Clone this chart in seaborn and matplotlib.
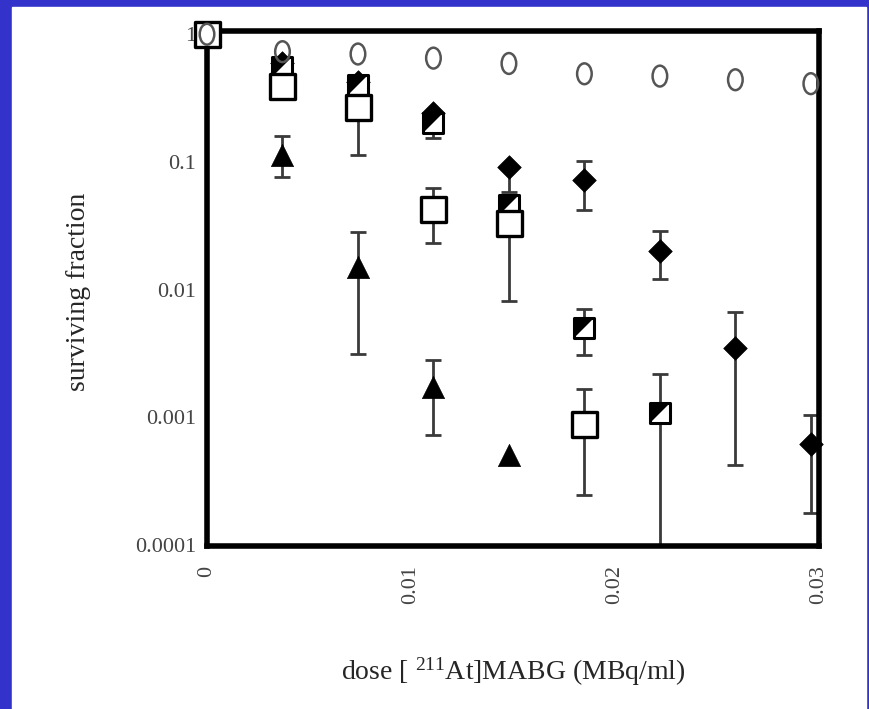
import matplotlib
matplotlib.use('Agg')
import matplotlib.pyplot as plt
import seaborn as sns
import pandas as pd
from matplotlib.path import Path
from matplotlib.patches import Rectangle
from matplotlib.transforms import Affine2D
from matplotlib.ticker import FixedLocator, NullLocator

# doses in MBq/ml (steps of 0.1 uCi)
dose = [0, 0.0037, 0.0074, 0.0111, 0.0148, 0.0185, 0.0222, 0.0259, 0.0296]

circle_sf = [1.0, 0.73, 0.70, 0.65, 0.59, 0.49, 0.47, 0.44, 0.41]

diamond_sf = [1.0, 0.60, 0.42, 0.24, 0.092, 0.072, 0.020, 0.0035, 0.00062]
diamond_lo = [None, None, None, None, 0.058, 0.042, 0.0121, 0.00042, 0.000178]
diamond_hi = [None, None, None, None, 0.092, 0.101, 0.0287, 0.00667, 0.00104]

halfsq_sf = [1.0, 0.55, 0.40, 0.20, 0.046, 0.0050, 0.00108]
halfsq_lo = [None, None, None, 0.153, None, 0.00307, 0.0001]
halfsq_hi = [None, None, None, 0.20, None, 0.00704, 0.00218]

opensq_sf = [1.0, 0.39, 0.27, 0.043, 0.033, 0.00089]
opensq_lo = [None, None, 0.113, 0.0231, 0.0081, 0.000246]
opensq_hi = [None, None, 0.27, 0.0623, 0.033, 0.00166]

triangle_sf = [1.0, 0.113, 0.0150, 0.00172, 0.00051]
triangle_lo = [None, 0.076, 0.00313, 0.00073, None]
triangle_hi = [None, 0.159, 0.0282, 0.0028, None]

yticks = [0.0001, 0.001, 0.01, 0.1, 1]
yticklabels = ['0.0001', '0.001', '0.01', '0.1', '1']
xticks = [0, 0.01, 0.02, 0.03]
xticklabels = ['0', '0.01', '0.02', '0.03']


def series_df(vals):
    return pd.DataFrame({'dose': dose[:len(vals)], 'sf': vals})


def draw_err(ax, vals, lo, hi):
    xs, ys, dlo, dhi = [], [], [], []
    for x, y, l, h in zip(dose, vals, lo, hi):
        if l is None:
            continue
        xs.append(x)
        ys.append(y)
        dlo.append(y - l)
        dhi.append(h - y)
    ax.errorbar(xs, ys, yerr=[dlo, dhi], fmt='none', ecolor='#3a3a3a',
                elinewidth=2, capsize=5.5, capthick=2, zorder=1, clip_on=False)


def main():
    sns.set_style('white')
    plt.rcParams['font.family'] = ['Liberation Serif', 'DejaVu Serif']
    plt.rcParams['mathtext.fontset'] = 'custom'
    plt.rcParams['mathtext.rm'] = 'Liberation Serif'

    fig = plt.figure(figsize=(8.69, 7.09), dpi=100)
    fig.patch.set_facecolor('#3333cc')
    fig.add_artist(Rectangle((12 / 869, 0), 854 / 869, 702 / 709,
                             transform=fig.transFigure, color='white', zorder=-1))
    ax = fig.add_axes([207 / 869, 163 / 709, 612 / 869, 515 / 709])

    # custom markers
    ellipse = Affine2D().scale(0.7, 1.0).transform_path(Path.unit_circle())
    upper_left = Path([(-0.5, -0.5), (-0.5, 0.5), (0.5, 0.5), (-0.5, -0.5)],
                      [Path.MOVETO, Path.LINETO, Path.LINETO, Path.CLOSEPOLY])

    # error bars
    draw_err(ax, diamond_sf, diamond_lo, diamond_hi)
    draw_err(ax, halfsq_sf, halfsq_lo, halfsq_hi)
    draw_err(ax, opensq_sf, opensq_lo, opensq_hi)
    draw_err(ax, triangle_sf, triangle_lo, triangle_hi)

    # markers
    sns.scatterplot(data=series_df(triangle_sf), x='dose', y='sf', ax=ax, marker='^',
                    s=16 ** 2, color='black', edgecolor='black', linewidth=0.5,
                    zorder=2, clip_on=False)
    sns.scatterplot(data=series_df(diamond_sf), x='dose', y='sf', ax=ax, marker='D',
                    s=12 ** 2, color='black', edgecolor='black', linewidth=0.5,
                    zorder=2, clip_on=False)
    sns.scatterplot(data=series_df(halfsq_sf), x='dose', y='sf', ax=ax, marker='s',
                    s=15 ** 2, color='white', edgecolor='black', linewidth=2.2,
                    zorder=4, clip_on=False)
    sns.scatterplot(data=series_df(halfsq_sf), x='dose', y='sf', ax=ax, marker=upper_left,
                    s=15 ** 2, color='black', edgecolor='black', linewidth=0,
                    zorder=4.5, clip_on=False)
    sns.scatterplot(data=series_df(opensq_sf), x='dose', y='sf', ax=ax, marker='s',
                    s=18 ** 2, color='white', edgecolor='black', linewidth=2.4,
                    zorder=5, clip_on=False)
    sns.scatterplot(data=series_df(circle_sf), x='dose', y='sf', ax=ax, marker=ellipse,
                    s=15 ** 2, color='none', edgecolor='#555555', linewidth=1.8,
                    zorder=6, clip_on=False)

    ax.set_yscale('log')
    ax.set_ylim(0.98e-4, 1.06)
    ax.set_xlim(0, 0.03)
    ax.yaxis.set_major_locator(FixedLocator(yticks))
    ax.yaxis.set_minor_locator(NullLocator())
    ax.set_yticklabels(yticklabels)
    ax.set_xticks(xticks)
    ax.set_xticklabels(xticklabels, rotation=90)

    for sp in ax.spines.values():
        sp.set_visible(True)
        sp.set_linewidth(4)
        sp.set_color('black')
    ax.tick_params(axis='both', direction='out', length=6, width=1.5, color='#555555',
                   labelsize=16, labelcolor='#444444')
    ax.tick_params(axis='x', pad=8)
    ax.tick_params(axis='y', pad=2)

    ax.set_xlabel(r'dose [ $\mathregular{^{211}}$At]MABG (MBq/ml)', fontsize=20)
    ax.set_ylabel('surviving fraction', fontsize=20)
    ax.xaxis.set_label_coords(0.5, -0.212)
    ax.yaxis.set_label_coords(-0.19, 0.493)

    fig.savefig('out.png', dpi=100, facecolor=fig.get_facecolor())


if __name__ == '__main__':
    main()
